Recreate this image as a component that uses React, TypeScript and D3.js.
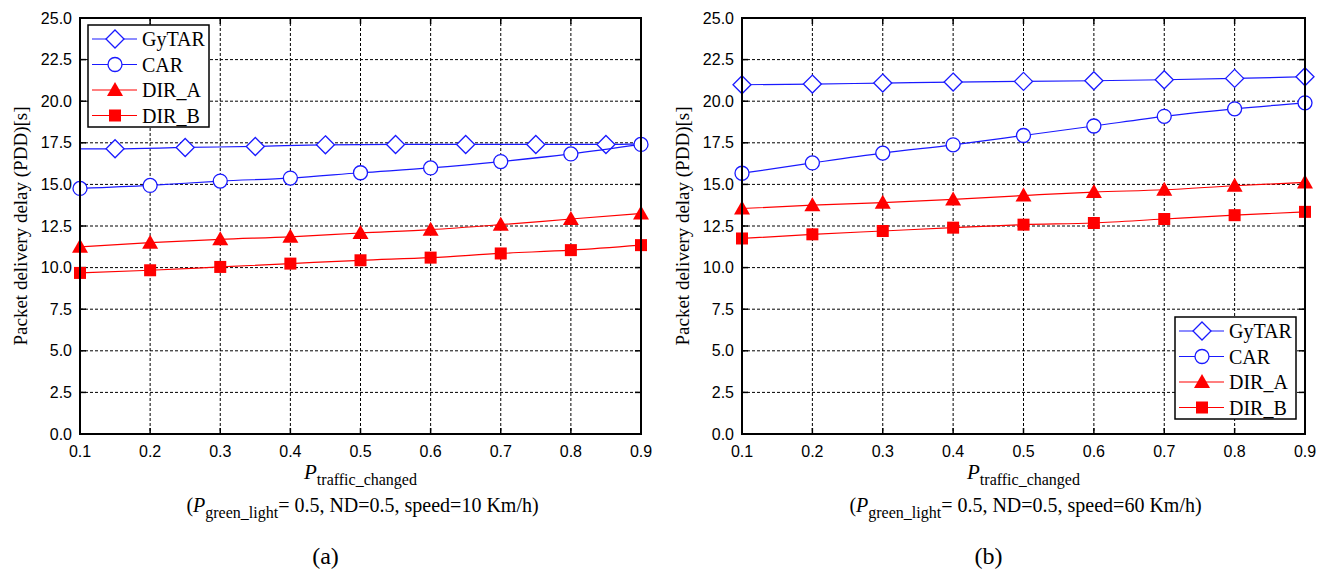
import React from "react";
import * as d3 from "d3";

// x positions and tick labels
const xTicks = [0.1, 0.2, 0.3, 0.4, 0.5, 0.6, 0.7, 0.8, 0.9];
const yTicks = [0, 2.5, 5, 7.5, 10, 12.5, 15, 17.5, 20, 22.5, 25];

// panel (a): speed = 10 Km/h
const gytarXA = [0.1, 0.15, 0.25, 0.35, 0.45, 0.55, 0.65, 0.75, 0.85, 0.9];
const gytarA = [17.14, 17.14, 17.22, 17.28, 17.38, 17.4, 17.4, 17.4, 17.4, 17.44];
const gytarMarksA = [false, true, true, true, true, true, true, true, true, false];
const carA = [14.76, 14.94, 15.2, 15.38, 15.7, 15.99, 16.37, 16.83, 17.4];
const dirAA = [11.25, 11.5, 11.7, 11.85, 12.08, 12.28, 12.58, 12.92, 13.25];
const dirBA = [9.68, 9.84, 10.04, 10.24, 10.44, 10.6, 10.85, 11.05, 11.35];

// panel (b): speed = 60 Km/h
const gytarB = [20.99, 21.03, 21.09, 21.15, 21.19, 21.23, 21.29, 21.37, 21.47];
const carB = [15.67, 16.29, 16.88, 17.38, 17.94, 18.51, 19.09, 19.54, 19.9];
const dirAB = [13.55, 13.75, 13.9, 14.1, 14.33, 14.54, 14.68, 14.92, 15.12];
const dirBB = [11.75, 12.0, 12.2, 12.4, 12.58, 12.68, 12.92, 13.15, 13.35];

const seriesNames = ["GyTAR", "CAR", "DIR_A", "DIR_B"];

const BLUE = "#1a1aff";
const RED = "#ff0000";
const SERIF = "Liberation Serif";
const SANS = "Liberation Sans";

type Shape = "diamond" | "circle" | "triangle" | "square";

const Marker = ({ shape, x, y }: { shape: Shape; x: number; y: number }) => {
  if (shape === "diamond") {
    const r = 9;
    return (
      <path
        d={`M${x},${y - r}L${x + r},${y}L${x},${y + r}L${x - r},${y}Z`}
        fill="white"
        stroke={BLUE}
        strokeWidth={1.3}
      />
    );
  }
  if (shape === "circle") {
    return <circle cx={x} cy={y} r={7} fill="white" stroke={BLUE} strokeWidth={1.3} />;
  }
  if (shape === "triangle") {
    const w = 8;
    return <path d={`M${x},${y - 8}L${x + w},${y + 6}L${x - w},${y + 6}Z`} fill={RED} />;
  }
  return <rect x={x - 6} y={y - 6} width={12} height={12} fill={RED} />;
};

const shapes: Shape[] = ["diamond", "circle", "triangle", "square"];
const colors = [BLUE, BLUE, RED, RED];

interface PanelProps {
  left: number;
  right: number;
  gytarX: number[];
  gytar: number[];
  gytarMarks: boolean[];
  car: number[];
  dirA: number[];
  dirB: number[];
  legendX: number;
  legendY: number;
  subtitle: string;
  tag: string;
}

const top = 18;
const bottom = 434;

const serif = (size: number) => ({ fontFamily: SERIF, fontSize: size + "px" });
const sans = (size: number) => ({ fontFamily: SANS, fontSize: size + "px" });

const Panel = (p: PanelProps) => {
  const x = d3.scaleLinear().domain([0.1, 0.9]).range([p.left, p.right]);
  const y = d3.scaleLinear().domain([0, 25]).range([bottom, top]);
  const line = d3
    .line<[number, number]>()
    .x((d) => x(d[0]))
    .y((d) => y(d[1]))
    .curve(d3.curveMonotoneX);

  const series: { pts: [number, number][]; marks: boolean[] }[] = [
    { pts: p.gytarX.map((v, i) => [v, p.gytar[i]]), marks: p.gytarMarks },
    { pts: xTicks.map((v, i) => [v, p.car[i]]), marks: xTicks.map(() => true) },
    { pts: xTicks.map((v, i) => [v, p.dirA[i]]), marks: xTicks.map(() => true) },
    { pts: xTicks.map((v, i) => [v, p.dirB[i]]), marks: xTicks.map(() => true) },
  ];

  const cx = (p.left + p.right) / 2;
  const tick = 6;

  return (
    <g>
      {/* grid */}
      {xTicks.slice(1, -1).map((t) => (
        <line key={"gx" + t} x1={x(t)} x2={x(t)} y1={top} y2={bottom} stroke="#000" strokeWidth={1} strokeDasharray="3,2" />
      ))}
      {yTicks.slice(1, -1).map((t) => (
        <line key={"gy" + t} x1={p.left} x2={p.right} y1={y(t)} y2={y(t)} stroke="#000" strokeWidth={1} strokeDasharray="3,2" />
      ))}
      {/* ticks inside on all sides */}
      {xTicks.map((t) => (
        <g key={"tx" + t}>
          <line x1={x(t)} x2={x(t)} y1={bottom} y2={bottom - tick} stroke="#000" strokeWidth={1.5} />
          <line x1={x(t)} x2={x(t)} y1={top} y2={top + tick} stroke="#000" strokeWidth={1.5} />
        </g>
      ))}
      {yTicks.map((t) => (
        <g key={"ty" + t}>
          <line x1={p.left} x2={p.left + tick} y1={y(t)} y2={y(t)} stroke="#000" strokeWidth={1.5} />
          <line x1={p.right} x2={p.right - tick} y1={y(t)} y2={y(t)} stroke="#000" strokeWidth={1.5} />
        </g>
      ))}
      {/* series */}
      {series.map((s, i) => (
        <g key={"s" + i}>
          <path d={line(s.pts) || ""} fill="none" stroke={colors[i]} strokeWidth={1.2} />
          {s.pts.map((d, j) =>
            s.marks[j] ? <Marker key={j} shape={shapes[i]} x={x(d[0])} y={y(d[1])} /> : null
          )}
        </g>
      ))}
      {/* frame */}
      <rect x={p.left} y={top} width={p.right - p.left} height={bottom - top} fill="none" stroke="#000" strokeWidth={2} />
      {/* tick labels */}
      {xTicks.map((t) => (
        <text key={"lx" + t} x={x(t)} y={457} textAnchor="middle" style={sans(16)} fill="#000">
          {t.toFixed(1)}
        </text>
      ))}
      {yTicks.map((t) => (
        <text key={"ly" + t} x={p.left - 8} y={y(t)} dy="0.35em" textAnchor="end" style={sans(16)} fill="#000">
          {t.toFixed(1)}
        </text>
      ))}
      {/* axis titles */}
      <text
        transform={`translate(${p.left - 60},${(top + bottom) / 2}) rotate(-90)`}
        textAnchor="middle"
        dy="0.35em"
        style={serif(19)}
        fill="#000"
      >
        Packet delivery delay (PDD)[s]
      </text>
      <text x={cx} y={479} textAnchor="middle" style={serif(21)} fill="#000">
        <tspan fontStyle="italic">P</tspan>
        <tspan style={{ fontSize: "16px" }} dy={6}>traffic_changed</tspan>
      </text>
      <text x={cx + 2} y={512} textAnchor="middle" style={serif(20)} fill="#000">
        <tspan>(</tspan>
        <tspan fontStyle="italic">P</tspan>
        <tspan style={{ fontSize: "16px" }} dy={6}>green_light</tspan>
        <tspan dy={-6}>{p.subtitle}</tspan>
      </text>
      <text x={cx - 35} y={564} textAnchor="middle" style={serif(24)} fill="#000">
        {p.tag}
      </text>
      {/* legend */}
      <g transform={`translate(${p.legendX},${p.legendY})`}>
        <rect x={0} y={0} width={121} height={102} fill="white" stroke="#000" strokeWidth={1.5} />
        {seriesNames.map((n, i) => {
          const ly = 14 + i * 25.5;
          return (
            <g key={n}>
              <line x1={4} x2={49} y1={ly} y2={ly} stroke={colors[i]} strokeWidth={1.2} />
              <Marker shape={shapes[i]} x={27} y={ly} />
              <text x={54} y={ly} dy="0.35em" style={serif(20)} fill="#000">
                {n}
              </text>
            </g>
          );
        })}
      </g>
    </g>
  );
};

export default function App() {
  return (
    <svg width={1317} height={571} style={{ position: "absolute", left: 0, top: 0, background: "white" }}>
      <Panel
        left={80}
        right={641}
        gytarX={gytarXA}
        gytar={gytarA}
        gytarMarks={gytarMarksA}
        car={carA}
        dirA={dirAA}
        dirB={dirBA}
        legendX={88}
        legendY={25}
        subtitle="= 0.5, ND=0.5, speed=10 Km/h)"
        tag="(a)"
      />
      <Panel
        left={742}
        right={1305}
        gytarX={xTicks}
        gytar={gytarB}
        gytarMarks={xTicks.map(() => true)}
        car={carB}
        dirA={dirAB}
        dirB={dirBB}
        legendX={1175}
        legendY={317}
        subtitle="= 0.5, ND=0.5, speed=60 Km/h)"
        tag="(b)"
      />
    </svg>
  );
}
